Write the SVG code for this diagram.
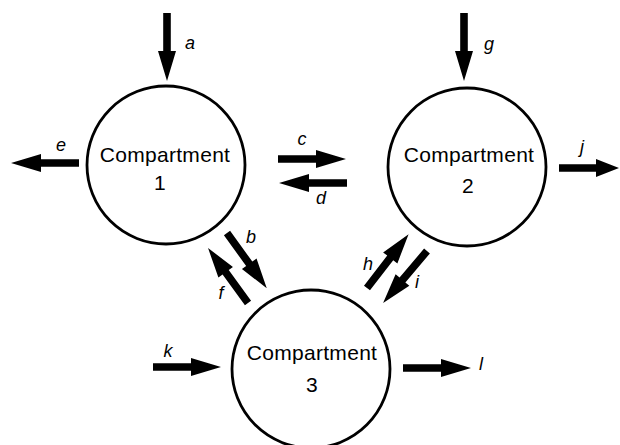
<svg xmlns="http://www.w3.org/2000/svg" xmlns:xlink="http://www.w3.org/1999/xlink" width="620" height="445" viewBox="0 0 620 445">
<style>
.node circle{fill:#fff;stroke:#000;stroke-width:2.8}
.name{font-family:"Liberation Sans",Arial,sans-serif;font-size:21px;letter-spacing:0.3px;text-anchor:middle;fill:#000}
.lbl{font-family:"Liberation Sans",Arial,sans-serif;font-size:18px;font-style:italic;text-anchor:middle;fill:#000}
.arr{fill:#000}
</style>
<defs>
<path id="ar" d="M0,-3.8 L38,-3.8 L38,-9 L68,0 L38,9 L38,3.8 L0,3.8 Z"/>
<path id="ars" d="M0,-3.8 L37,-3.8 L37,-9 L60,0 L37,9 L37,3.8 L0,3.8 Z"/>
</defs>
<rect width="620" height="445" fill="#fff"/>
<g id="comp1" class="node">
<circle cx="166" cy="165" r="79"/>
<text class="name" x="165" y="162">Compartment</text>
<text class="name" x="160" y="190">1</text>
</g>
<g id="comp2" class="node">
<circle cx="467" cy="167" r="79"/>
<text class="name" x="469" y="162">Compartment</text>
<text class="name" x="468" y="193">2</text>
</g>
<g id="comp3" class="node">
<circle cx="311" cy="369" r="79"/>
<text class="name" x="312" y="360">Compartment</text>
<text class="name" x="312" y="392">3</text>
</g>
<g id="connectors" class="arr">
<use xlink:href="#ar" transform="translate(167,13) rotate(90)"/>
<use xlink:href="#ar" transform="translate(79,163) rotate(180)"/>
<use xlink:href="#ar" transform="translate(278,159)"/>
<use xlink:href="#ar" transform="translate(347,183) rotate(180)"/>
<use xlink:href="#ar" transform="translate(464,13) rotate(90)"/>
<use xlink:href="#ars" transform="translate(559,168)"/>
<use xlink:href="#ar" transform="translate(227,233) rotate(54.2)"/>
<use xlink:href="#ar" transform="translate(248,303) rotate(234)"/>
<use xlink:href="#ar" transform="translate(367,288) rotate(-52.3)"/>
<use xlink:href="#ar" transform="translate(427,251) rotate(130.2)"/>
<use xlink:href="#ar" transform="translate(153,367)"/>
<use xlink:href="#ar" transform="translate(403,368)"/>
</g>
<g id="labels">
<text class="lbl" x="190" y="49">a</text>
<text class="lbl" x="61" y="151">e</text>
<text class="lbl" x="302" y="145">c</text>
<text class="lbl" x="321" y="204">d</text>
<text class="lbl" x="489" y="50">g</text>
<text class="lbl" x="582" y="153">j</text>
<text class="lbl" x="251" y="243">b</text>
<text class="lbl" x="221" y="299">f</text>
<text class="lbl" x="368" y="270">h</text>
<text class="lbl" x="417" y="288">i</text>
<text class="lbl" x="168" y="357">k</text>
<text class="lbl" x="481" y="370">l</text>
</g>
</svg>
